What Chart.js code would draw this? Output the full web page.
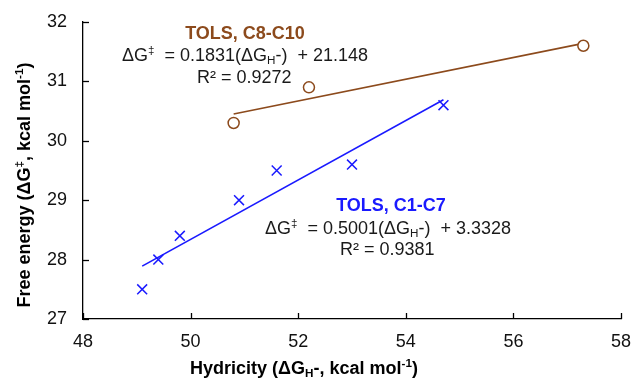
<!DOCTYPE html>
<html>
<head>
<meta charset="utf-8">
<script src="https://cdn.jsdelivr.net/npm/chart.js@4.4.1/dist/chart.umd.min.js"></script>
<style>
html,body{margin:0;padding:0;background:#fff;}
#wrap{width:632px;height:378px;}
</style>
</head>
<body>
<div id="wrap"><canvas id="c" width="632" height="378"></canvas></div>
<script>
// ---- data ----
const c1c7X = [49.1, 49.4, 49.8, 50.9, 51.6, 53.0, 54.7];
const c1c7Y = [27.5, 28.0, 28.4, 29.0, 29.5, 29.6, 30.6];
const c8c10X = [50.8, 52.2, 57.3];
const c8c10Y = [30.3, 30.9, 31.6];
// trendline endpoints
const c1c7TrendX = [49.1, 54.7];
const c1c7TrendY = [27.89, 30.69];
const c8c10TrendX = [50.8, 57.3];
const c8c10TrendY = [30.45, 31.64];
const xTicks = [48, 50, 52, 54, 56, 58];
const yTicks = [27, 28, 29, 30, 31, 32];

const BROWN = '#8c4a1c';
const BLUE = '#1a1aff';
const FONT = '"Liberation Sans", Arial, sans-serif';

const pts = (xs, ys) => xs.map((x, i) => ({x: x, y: ys[i]}));

function richWidth(ctx, segs, size, bold) {
  let w = 0;
  for (const s of segs) {
    const fs = (s.sub || s.sup) ? size * 0.65 : size;
    ctx.font = (bold ? 'bold ' : '') + fs + 'px ' + FONT;
    w += ctx.measureText(s.t).width;
  }
  return w;
}
function drawRich(ctx, segs, x, y, size, bold, color, align) {
  ctx.save();
  ctx.fillStyle = color;
  ctx.textBaseline = 'middle';
  ctx.textAlign = 'left';
  const w = richWidth(ctx, segs, size, bold);
  let cx = align === 'center' ? x - w / 2 : x;
  for (const s of segs) {
    const fs = (s.sub || s.sup) ? size * 0.65 : size;
    ctx.font = (bold ? 'bold ' : '') + fs + 'px ' + FONT;
    let dy = 0;
    if (s.sub) dy = size * 0.28;
    if (s.sup) dy = -size * 0.3;
    ctx.fillText(s.t, cx, y + dy);
    cx += ctx.measureText(s.t).width;
  }
  ctx.restore();
}

const textPlugin = {
  id: 'texts',
  afterDraw(chart) {
    const ctx = chart.ctx;
    const xs = chart.scales.x, ys = chart.scales.y;
    ctx.save();
    ctx.strokeStyle = '#000';
    ctx.lineWidth = 1.3;
    const left = chart.chartArea.left, bottom = chart.chartArea.bottom;
    for (const v of yTicks) {
      const py = Math.round(ys.getPixelForValue(v)) + 0.5;
      ctx.beginPath(); ctx.moveTo(left, py); ctx.lineTo(left + 6, py); ctx.stroke();
    }
    for (const v of xTicks) {
      const px = Math.round(xs.getPixelForValue(v)) + 0.5;
      ctx.beginPath(); ctx.moveTo(px, bottom); ctx.lineTo(px, bottom - 6); ctx.stroke();
    }
    ctx.restore();

    drawRich(ctx, [{t: 'TOLS, C8-C10'}], 245, 34, 18, true, BROWN, 'center');
    drawRich(ctx, [{t: 'ΔG'}, {t: '‡', sup: true}, {t: '  = 0.1831(ΔG'}, {t: 'H', sub: true}, {t: '-)  + 21.148'}], 122, 56, 18, false, '#1a1a1a', 'left');
    drawRich(ctx, [{t: 'R² = 0.9272'}], 197, 78, 18, false, '#1a1a1a', 'left');
    drawRich(ctx, [{t: 'TOLS, C1-C7'}], 391, 206, 18, true, BLUE, 'center');
    drawRich(ctx, [{t: 'ΔG'}, {t: '‡', sup: true}, {t: '  = 0.5001(ΔG'}, {t: 'H', sub: true}, {t: '-)  + 3.3328'}], 265, 229, 18, false, '#1a1a1a', 'left');
    drawRich(ctx, [{t: 'R² = 0.9381'}], 340, 250, 18, false, '#1a1a1a', 'left');

    drawRich(ctx, [{t: 'Hydricity (ΔG'}, {t: 'H', sub: true}, {t: '-, kcal mol'}, {t: '-1', sup: true}, {t: ')'}], 304, 369, 18, true, '#000', 'center');
    ctx.save();
    ctx.translate(25, 185);
    ctx.rotate(-Math.PI / 2);
    drawRich(ctx, [{t: 'Free energy (ΔG'}, {t: '‡', sup: true}, {t: ', kcal mol'}, {t: '-1', sup: true}, {t: ')'}], 0, 0, 18, true, '#000', 'center');
    ctx.restore();
  }
};

new Chart(document.getElementById('c'), {
  type: 'scatter',
  data: {
    datasets: [
      {
        type: 'line', data: pts(c8c10TrendX, c8c10TrendY), borderColor: BROWN, borderWidth: 1.6,
        pointRadius: 0, fill: false, order: 3
      },
      {
        type: 'line', data: pts(c1c7TrendX, c1c7TrendY), borderColor: BLUE, borderWidth: 1.6,
        pointRadius: 0, fill: false, order: 3
      },
      {
        data: pts(c8c10X, c8c10Y), pointStyle: 'circle', pointRadius: 5.5, borderWidth: 1.5,
        borderColor: BROWN, backgroundColor: '#fff', order: 1
      },
      {
        data: pts(c1c7X, c1c7Y), pointStyle: 'crossRot', pointRadius: 7, borderWidth: 1.5,
        borderColor: BLUE, backgroundColor: BLUE, order: 1
      }
    ]
  },
  options: {
    responsive: false,
    animation: false,
    devicePixelRatio: 1,
    layout: {padding: {left: 0, top: 22, right: 11, bottom: 0}},
    plugins: {legend: {display: false}, tooltip: {enabled: false}},
    scales: {
      x: {
        type: 'linear', min: 48, max: 58,
        afterBuildTicks(s) { s.ticks = xTicks.map(v => ({value: v})); },
        afterFit(s) { s.height = 59; s.paddingLeft = 0; s.paddingRight = 0; },
        grid: {display: false, drawTicks: false},
        border: {display: true, color: '#000', width: 1.3},
        ticks: {padding: 12, color: '#111', font: {family: FONT, size: 18}}
      },
      y: {
        type: 'linear', min: 27, max: 32,
        afterBuildTicks(s) { s.ticks = yTicks.map(v => ({value: v})); },
        afterFit(s) { s.width = 83; s.paddingTop = 0; s.paddingBottom = 0; },
        grid: {display: false, drawTicks: false},
        border: {display: true, color: '#000', width: 1.3},
        ticks: {padding: 16, color: '#111', font: {family: FONT, size: 18}}
      }
    }
  },
  plugins: [textPlugin]
});
</script>
</body>
</html>
